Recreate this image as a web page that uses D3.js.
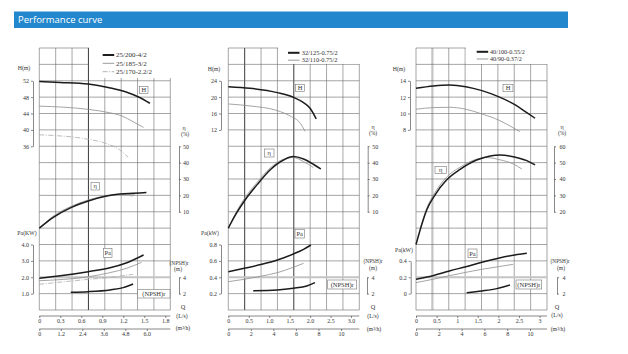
<!DOCTYPE html>
<html><head><meta charset="utf-8">
<script src="https://cdn.jsdelivr.net/npm/d3@7/dist/d3.min.js"></script>
<style>
body{margin:0;background:#fff;}
svg{display:block;}
</style></head><body>
<svg id="c" width="628" height="354"></svg>
<script>
// ---------------- DATA ----------------
const title = "Performance curve";

// Panel 1
const p1Names = ["25/200-4/2", "25/185-3/2", "25/170-2.2/2"];
const p1QTicks = [0, 0.3, 0.6, 0.9, 1.2, 1.5, 1.8];
const p1QLabels = ["0", "0.3", "0.6", "0.9", "1.2", "1.5", "1.8"];
const p1M3hTicks = [0, 1.2, 2.4, 3.6, 4.8, 6.0];
const p1M3hLabels = ["0", "1.2", "2.4", "3.6", "4.8", "6.0"];
const p1HTicks = [52, 48, 44, 40, 36];
const p1HLabels = ["52", "48", "44", "40", "36"];
const p1EtaTicks = [50, 40, 30, 20, 10];
const p1EtaLabels = ["50", "40", "30", "20", "10"];
const p1PaTicks = [4, 3, 2, 1];
const p1PaLabels = ["4.0", "3.0", "2.0", "1.0"];
const p1NpshTicks = [4, 2];
const p1NpshLabels = ["4", "2"];
const p1Head = [
  [[0, 51.8], [0.3, 51.6], [0.7, 51.2], [1.0, 50.3], [1.25, 49.2], [1.41, 48.1], [1.58, 46.5]],
  [[0, 45.8], [0.7, 45.0], [1.0, 44.2], [1.18, 43.4], [1.34, 42.0], [1.49, 40.6]],
  [[0, 38.8], [0.7, 37.7], [1.0, 36.4], [1.15, 35.1], [1.27, 33.3]]
];
const p1Eta = [
  [[0, 0], [0.2, 6.6], [0.46, 12.7], [0.7, 16.6], [0.96, 19.6], [1.15, 20.9], [1.34, 21.3], [1.53, 21.7]],
  [[0, 0], [0.2, 7.3], [0.46, 13.4], [0.7, 17.2], [0.96, 19.8], [1.15, 20.6], [1.37, 20.3]],
  [[0, 0], [0.2, 7.0], [0.46, 13.1], [0.7, 17.0], [0.96, 19.5], [1.15, 20.2], [1.34, 19.6]]
];
const p1Pa = [
  [[0, 1.94], [0.3, 2.09], [0.7, 2.34], [1.01, 2.58], [1.25, 2.89], [1.49, 3.36]],
  [[0, 1.79], [0.7, 2.03], [1.01, 2.28], [1.25, 2.55], [1.46, 2.91]],
  [[0, 1.57], [0.7, 1.87], [1.01, 1.99], [1.34, 2.18]]
];
const p1Npsh = [[0.45, 2.17], [0.7, 2.24], [1.01, 2.45], [1.2, 2.73], [1.34, 3.18]];

// Panel 2
const p2Names = ["32/125-0.75/2", "32/110-0.75/2"];
const p2QTicks = [0, 0.5, 1.0, 1.5, 2.0, 2.5, 3.0];
const p2QLabels = ["0", "0.5", "1.0", "1.5", "2.0", "2.5", "3.0"];
const p2M3hTicks = [0, 2, 4, 6, 8, 10];
const p2M3hLabels = ["0", "2", "4", "6", "8", "10"];
const p2HTicks = [24, 20, 16, 12];
const p2HLabels = ["24", "20", "16", "12"];
const p2EtaTicks = [50, 40, 30, 20, 10];
const p2EtaLabels = ["50", "40", "30", "20", "10"];
const p2PaTicks = [0.8, 0.6, 0.4, 0.2];
const p2PaLabels = ["0.8", "0.6", "0.4", "0.2"];
const p2NpshTicks = [4, 2];
const p2NpshLabels = ["4", "2"];
const p2Head = [
  [[0, 22.56], [0.53, 22.17], [1.2, 21.1], [1.59, 19.97], [1.84, 18.65], [2.0, 17.3], [2.15, 14.67]],
  [[0, 18.33], [0.53, 17.85], [1.2, 16.7], [1.51, 15.4], [1.76, 13.6], [1.88, 11.6]]
];
const p2Eta = [
  [[0, 0], [0.2, 9.1], [0.41, 17.2], [0.7, 26.4], [1.02, 35.5], [1.35, 41.6], [1.59, 43.7], [1.84, 42.2], [2.08, 39.0], [2.26, 36.1]],
  [[0, 0], [0.2, 10.1], [0.41, 18.6], [0.7, 27.8], [1.02, 36.6], [1.35, 42.1], [1.59, 43.1], [1.84, 40.6], [2.08, 37.0]]
];
const p2Pa = [
  [[0, 0.468], [0.39, 0.509], [0.82, 0.558], [1.2, 0.611], [1.59, 0.684], [1.84, 0.741], [2.02, 0.794]],
  [[0, 0.346], [0.39, 0.375], [0.82, 0.415], [1.2, 0.456], [1.59, 0.522], [1.84, 0.570]]
];
const p2Npsh = [[0.61, 2.36], [1.2, 2.45], [1.59, 2.66], [1.92, 2.94], [2.12, 3.34]];

// Panel 3
const p3Names = ["40/100-0.55/2", "40/90-0.37/2"];
const p3QTicks = [0, 0.5, 1, 1.5, 2, 2.5, 3];
const p3QLabels = ["0", "0.5", "1", "1.5", "2", "2.5", "3"];
const p3M3hTicks = [0, 2, 4, 6, 8, 10];
const p3M3hLabels = ["0", "2", "4", "6", "8", "10"];
const p3HTicks = [14, 12, 10, 8];
const p3HLabels = ["14", "12", "10", "8"];
const p3EtaTicks = [60, 50, 40, 30, 20];
const p3EtaLabels = ["60", "50", "40", "30", "20"];
const p3PaTicks = [0.4, 0.2, 0];
const p3PaLabels = ["0.4", "0.2", "0"];
const p3NpshTicks = [4, 2];
const p3NpshLabels = ["4", "2"];
const p3Head = [
  [[0, 13.08], [0.42, 13.37], [0.81, 13.49], [1.21, 13.28], [1.6, 12.79], [2.0, 12.06], [2.41, 11.05], [2.69, 10.1], [2.89, 9.42]],
  [[0, 10.52], [0.42, 10.72], [0.81, 10.76], [1.21, 10.52], [1.6, 9.94], [2.0, 9.21], [2.28, 8.48], [2.52, 7.79]]
];
const p3Eta = [
  [[0, 0], [0.1, 8.9], [0.26, 21.1], [0.46, 30.2], [0.74, 39.4], [1.07, 45.9], [1.47, 51.6], [1.8, 54.1], [2.04, 54.7], [2.36, 53.6], [2.69, 51.2], [2.89, 48.6]],
  [[0.1, 9.5], [0.26, 22.1], [0.46, 31.7], [0.74, 41.1], [1.07, 47.2], [1.47, 52.1], [1.72, 53.1], [2.04, 51.7], [2.36, 49.2], [2.57, 46.1]]
];
const p3Pa = [
  [[0, 0.175], [0.41, 0.219], [0.81, 0.277], [1.21, 0.329], [1.6, 0.383], [2.0, 0.432], [2.4, 0.472], [2.69, 0.493]],
  [[0, 0.134], [0.41, 0.175], [0.81, 0.219], [1.21, 0.26], [1.6, 0.297], [2.0, 0.329], [2.36, 0.358]]
];
const p3Npsh = [[1.23, 2.12], [1.6, 2.33], [1.96, 2.61], [2.28, 3.06]];

// ---------------- LAYOUT ----------------
const CELL = 16.375, GTOP = 48, COLS = 8, ROWS = 16;
const SERIF = "'Liberation Serif','DejaVu Serif',serif";
const seriesStyle = [
  {stroke: "#1c1c1c", w: 1.5, lw: 2, dash: null},
  {stroke: "#8e8e8e", w: 0.8, lw: 0.9, dash: null},
  {stroke: "#a9a9a9", w: 0.8, lw: 0.9, dash: "5,1.5,1,1.5"}
];

const panels = [
  {
    d: {names: p1Names, head: p1Head, eta: p1Eta, pa: p1Pa, npsh: p1Npsh,
        qT: p1QTicks, qL: p1QLabels, mT: p1M3hTicks, mL: p1M3hLabels,
        hT: p1HTicks, hL: p1HLabels, eT: p1EtaTicks, eL: p1EtaLabels,
        pT: p1PaTicks, pL: p1PaLabels, nT: p1NpshTicks, nL: p1NpshLabels, paUnit: "Pa(KW)"},
    L: {x0: 39.3, qSpan: 126, mSpan: 107.5, hRows: [2, 6], eRows: [6, 10], pRows: [12, 15],
        hAxisX: 33, pAxisX: 33, eAxisX: 179, nAxisX: 179, ePad: 2,
        darkCols: [3], grayCols: [], darkRows: [], grayRows: [14],
        legendBottom: 78, legendLineX: 102.7, legendTextX: 116, legendY: [55, 63.3, 71.7], legendFont: 7,
        hLab: [24, 70], paLab: [27, 235], etaLab: [184, 130], pctLab: [185, 136],
        npLab: [179, 265], mLab: [178, 271], qLab: [183, 309], lsLab: [182, 318], mhLab: [183, 330],
        boxH: [139.5, 86.5, 8.5, 7], boxE: [91, 182.3, 8.5, 7.7], boxP: [103.5, 248.3, 8.5, 9], boxN: [137.7, 289.3, 32.3, 8.7]}
  },
  {
    d: {names: p2Names, head: p2Head, eta: p2Eta, pa: p2Pa, npsh: p2Npsh,
        qT: p2QTicks, qL: p2QLabels, mT: p2M3hTicks, mL: p2M3hLabels,
        hT: p2HTicks, hL: p2HLabels, eT: p2EtaTicks, eL: p2EtaLabels,
        pT: p2PaTicks, pL: p2PaLabels, nT: p2NpshTicks, nL: p2NpshLabels, paUnit: "Pa(kW)"},
    L: {x0: 228.3, qSpan: 122.7, mSpan: 112.7, hRows: [2, 5], eRows: [6, 10], pRows: [12, 15],
        hAxisX: 221, pAxisX: 221, eAxisX: 367.7, nAxisX: 367, ePad: 2.5,
        darkCols: [1, 4], grayCols: [], darkRows: [], grayRows: [14],
        legendBottom: 63.9, legendLineX: 288, legendTextX: 301.7, legendY: [52.8, 60.2], legendFont: 6.4,
        hLab: [214, 71], paLab: [210, 235], etaLab: [373, 129], pctLab: [373, 135],
        npLab: [373, 263], mLab: [373, 270], qLab: [373, 309], lsLab: [373, 318], mhLab: [374, 331],
        boxH: [295.5, 84.3, 9, 7], boxE: [264.3, 149, 9.7, 8], boxP: [295, 229.5, 9.5, 8.5], boxN: [327.7, 280, 29, 9]}
  },
  {
    d: {names: p3Names, head: p3Head, eta: p3Eta, pa: p3Pa, npsh: p3Npsh,
        qT: p3QTicks, qL: p3QLabels, mT: p3M3hTicks, mL: p3M3hLabels,
        hT: p3HTicks, hL: p3HLabels, eT: p3EtaTicks, eL: p3EtaLabels,
        pT: p3PaTicks, pL: p3PaLabels, nT: p3NpshTicks, nL: p3NpshLabels, paUnit: "Pa(kW)"},
    L: {x0: 416, qSpan: 123.6, mSpan: 114, hRows: [2, 5], eRows: [6, 10], pRows: [13, 15],
        hAxisX: 410, pAxisX: 410.7, eAxisX: 554, nAxisX: 557, ePad: 3.5,
        darkCols: [], grayCols: [1], darkRows: [], grayRows: [14],
        legendBottom: 63.9, legendLineX: 476.7, legendTextX: 490, legendY: [51.8, 59], legendFont: 6.2,
        hLab: [399, 71], paLab: [404, 252], etaLab: [562, 129], pctLab: [562, 135],
        npLab: [560, 263], mLab: [561, 270], qLab: [557, 309], lsLab: [557, 317], mhLab: [558, 331],
        boxH: [503, 84.3, 10, 7.4], boxE: [435, 166.5, 11.5, 7], boxP: [468, 249, 9, 8.7], boxN: [516, 280, 25.7, 9]}
  }
];

// ---------------- DRAW ----------------
const svg = d3.select("#c");

// title bar
svg.append("rect").attr("x", 14).attr("y", 11.5).attr("width", 554).attr("height", 16.5).attr("fill", "#2387cd");
svg.append("text").attr("x", 18).attr("y", 23.2).attr("fill", "#fff")
  .attr("font-family", "'Open Sans','Noto Sans',sans-serif").attr("font-size", 9.5).text(title);

function styleAxis(sel, size) {
  sel.attr("font-family", SERIF).attr("font-size", size);
  sel.selectAll(".domain").attr("stroke", "#555").attr("stroke-width", 0.7);
  sel.selectAll(".tick line").attr("stroke", "#555").attr("stroke-width", 0.7);
  sel.selectAll(".tick text").attr("fill", "#333");
}

function txt(g, pos, s, size, anchor) {
  g.append("text").attr("x", pos[0]).attr("y", pos[1]).attr("text-anchor", anchor || "middle")
    .attr("font-family", SERIF).attr("font-size", size).attr("fill", "#333").text(s);
}

function box(g, b, s) {
  g.append("rect").attr("x", b[0]).attr("y", b[1]).attr("width", b[2]).attr("height", b[3])
    .attr("fill", "#fff").attr("stroke", "#777").attr("stroke-width", 0.6);
  g.append("text").attr("x", b[0] + b[2] / 2).attr("y", b[1] + b[3] / 2 + 2.2).attr("text-anchor", "middle")
    .attr("font-family", SERIF).attr("font-size", 6.5).attr("fill", "#333").text(s);
}

panels.forEach(({d, L}) => {
  const g = svg.append("g");
  const col = d3.scaleLinear().domain([0, COLS]).range([L.x0, L.x0 + COLS * CELL]);
  const row = d3.scaleLinear().domain([0, ROWS]).range([GTOP, GTOP + ROWS * CELL]);

  const q = d3.scaleLinear().domain([0, d3.max(d.qT)]).range([L.x0, L.x0 + L.qSpan]);
  const m = d3.scaleLinear().domain([0, d3.max(d.mT)]).range([L.x0, L.x0 + L.mSpan]);
  const H = d3.scaleLinear().domain(d3.extent(d.hT)).range([row(L.hRows[1]), row(L.hRows[0])]);
  const E = d3.scaleLinear().domain(d3.extent(d.eT)).range([row(L.eRows[1]), row(L.eRows[0])]);
  const P = d3.scaleLinear().domain(d3.extent(d.pT)).range([row(L.pRows[1]), row(L.pRows[0])]);
  const N = d3.scaleLinear().domain(d3.extent(d.nT)).range([row(15), row(14)]);

  // grid
  const grid = g.append("g");
  const normal = {c: "#6a6a6a", w: 0.6}, dark = {c: "#3a3a3a", w: 1.0}, gray = {c: "#c4c4c4", w: 2.2};
  const vlines = d3.range(COLS + 1).map(i => ({i, s: L.grayCols.includes(i) ? gray : L.darkCols.includes(i) ? dark : normal}));
  const hlines = d3.range(ROWS + 1).map(i => ({i, s: L.grayRows.includes(i) ? gray : L.darkRows.includes(i) ? dark : normal}));
  grid.selectAll("line.v").data(vlines).join("line").attr("class", "v")
    .attr("x1", v => col(v.i)).attr("x2", v => col(v.i)).attr("y1", row(0)).attr("y2", row(ROWS))
    .attr("stroke", v => v.s.c).attr("stroke-width", v => v.s.w);
  grid.selectAll("line.h").data(hlines).join("line").attr("class", "h")
    .attr("y1", v => row(v.i)).attr("y2", v => row(v.i)).attr("x1", col(0)).attr("x2", col(COLS))
    .attr("stroke", v => v.s.c).attr("stroke-width", v => v.s.w);

  // legend box (white area covering the grid)
  g.append("rect").attr("x", col(3) + 0.7).attr("y", row(0) - 1.5)
    .attr("width", col(COLS) - col(3) + 1).attr("height", L.legendBottom - row(0) + 1.5).attr("fill", "#fff");
  d.names.forEach((nm, i) => {
    const st = seriesStyle[i];
    g.append("line").attr("x1", L.legendLineX).attr("x2", L.legendLineX + 11.5)
      .attr("y1", L.legendY[i]).attr("y2", L.legendY[i])
      .attr("stroke", st.stroke).attr("stroke-width", st.lw).attr("stroke-dasharray", st.dash);
    g.append("text").attr("x", L.legendTextX).attr("y", L.legendY[i] + L.legendFont * 0.32)
      .attr("font-family", SERIF).attr("font-size", L.legendFont).attr("fill", "#333").text(nm);
  });

  // curves
  const line = (ys) => d3.line().x(p => q(p[0])).y(p => ys(p[1])).curve(d3.curveMonotoneX);
  const curves = g.append("g").attr("fill", "none");
  const drawSet = (set, ys) => {
    set.map((s, i) => ({s, i})).reverse().forEach(({s, i}) => {
      const st = seriesStyle[i];
      curves.append("path").attr("d", line(ys)(s)).attr("stroke", st.stroke)
        .attr("stroke-width", st.w).attr("stroke-dasharray", st.dash);
    });
  };
  drawSet(d.head, H);
  drawSet(d.eta, E);
  drawSet(d.pa, P);
  drawSet([d.npsh], N);

  // left axes
  const ah = g.append("g").attr("transform", `translate(${L.hAxisX},0)`)
    .call(d3.axisLeft(H).tickValues(d.hT).tickFormat((v, i) => d.hL[i]).tickSize(2).tickSizeOuter(0).tickPadding(2));
  styleAxis(ah, 6);
  const ap = g.append("g").attr("transform", `translate(${L.pAxisX},0)`)
    .call(d3.axisLeft(P).tickValues(d.pT).tickFormat((v, i) => d.pL[i]).tickSize(2).tickSizeOuter(0).tickPadding(2));
  styleAxis(ap, 6);
  // right axes
  const ae = g.append("g").attr("transform", `translate(${L.eAxisX},0)`)
    .call(d3.axisRight(E).tickValues(d.eT).tickFormat((v, i) => d.eL[i]).tickSize(2).tickSizeOuter(0).tickPadding(L.ePad));
  styleAxis(ae, 6);
  const an = g.append("g").attr("transform", `translate(${L.nAxisX},0)`)
    .call(d3.axisRight(N).tickValues(d.nT).tickFormat((v, i) => d.nL[i]).tickSize(2).tickSizeOuter(0).tickPadding(L.ePad));
  styleAxis(an, 6);

  // bottom axes
  const qy = 316, my = 329;
  [qy, my].forEach(y => g.append("line").attr("x1", col(0)).attr("x2", col(COLS)).attr("y1", y).attr("y2", y)
    .attr("stroke", "#555").attr("stroke-width", 0.7));
  const aq = g.append("g").attr("transform", `translate(0,${qy})`)
    .call(d3.axisBottom(q).tickValues(d.qT).tickFormat((v, i) => d.qL[i]).tickSize(2).tickSizeOuter(0).tickPadding(1));
  styleAxis(aq, 6); aq.select(".domain").remove();
  const am = g.append("g").attr("transform", `translate(0,${my})`)
    .call(d3.axisBottom(m).tickValues(d.mT).tickFormat((v, i) => d.mL[i]).tickSize(2).tickSizeOuter(0).tickPadding(1));
  styleAxis(am, 6); am.select(".domain").remove();

  // axis titles
  txt(g, L.hLab, "H(m)", 5.8);
  txt(g, L.paLab, d.paUnit, 5.8);
  txt(g, L.etaLab, "η", 6);
  txt(g, L.pctLab, "(%)", 5.5);
  txt(g, L.npLab, "(NPSH)r", 5.3);
  txt(g, L.mLab, "(m)", 5.5);
  txt(g, L.qLab, "Q", 6.3);
  txt(g, L.lsLab, "(L/s)", 5.8);
  txt(g, L.mhLab, "(m³/h)", 5.8);

  // curve tags
  box(g, L.boxH, "H");
  box(g, L.boxE, "η");
  box(g, L.boxP, "Pa");
  box(g, L.boxN, "(NPSH)r");
});
</script>
</body></html>
